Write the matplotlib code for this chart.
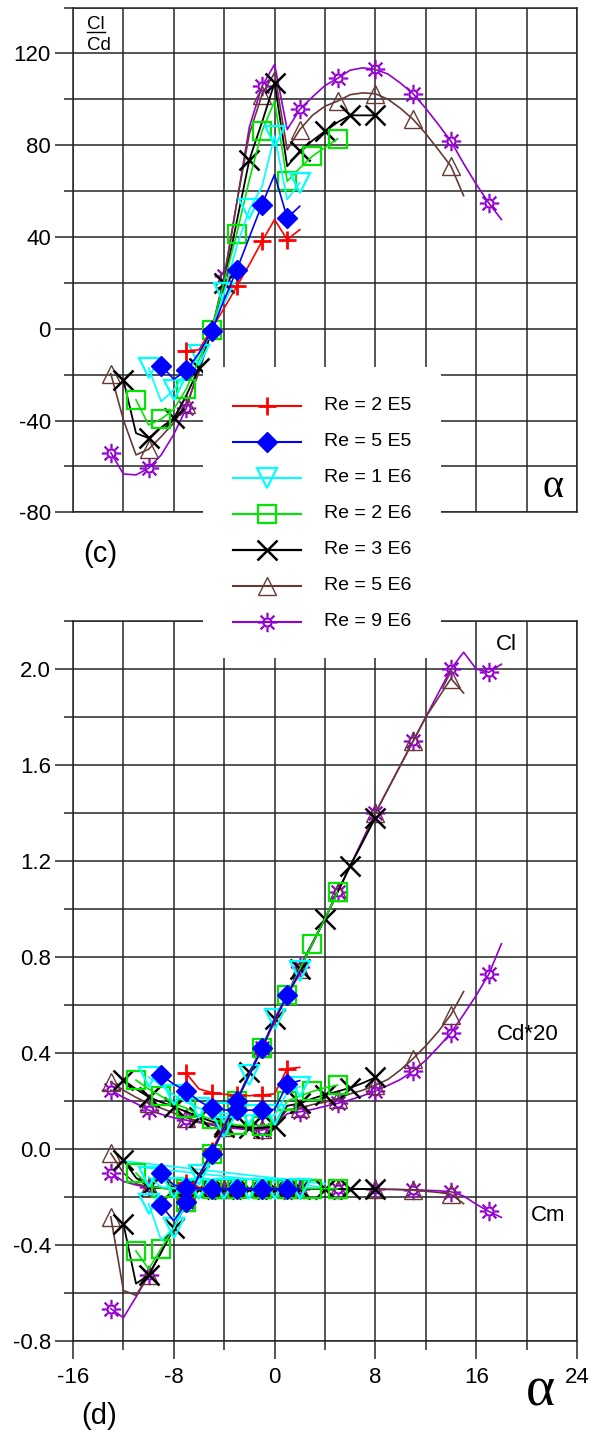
import numpy as np
import matplotlib
matplotlib.use('Agg')
import matplotlib.pyplot as plt
from matplotlib.path import Path
from matplotlib.ticker import MultipleLocator, FixedLocator

plt.rcParams['font.family'] = ['Liberation Sans', 'DejaVu Sans']
plt.rcParams['axes.unicode_minus'] = False

# ---------------- data ----------------
labels = ['Re = 2 E5', 'Re = 5 E5', 'Re = 1 E6', 'Re = 2 E6', 'Re = 3 E6', 'Re = 5 E6', 'Re = 9 E6']

# Re = 2 E5
a_2e5 = [-7, -6, -5, -4, -3, -2, -1, 0, 1, 2]
clcd_2e5 = [-9.6, -9.2, 0.0, 9.0, 18.5, 28.0, 38.1, 47.6, 38.8, 43.2]
cl_2e5 = [-0.21, -0.11, -0.01, 0.10, 0.20, 0.31, 0.42, 0.53, 0.64, 0.73]
cd20_2e5 = [0.315, 0.25, 0.235, 0.228, 0.225, 0.222, 0.225, 0.23, 0.335, 0.34]
cm_2e5 = [-0.14, -0.16, -0.165, -0.165, -0.165, -0.166, -0.166, -0.166, -0.166, -0.166]

# Re = 5 E5
a_5e5 = [-9, -8, -7, -6, -5, -4, -3, -2, -1, 0, 1, 2]
clcd_5e5 = [-16.1, -22.0, -18.2, -10.6, -1.2, 12.7, 25.7, 40.0, 54.1, 67.2, 48.3, 53.4]
cl_5e5 = [-0.235, -0.30, -0.22, -0.11, -0.02, 0.09, 0.20, 0.31, 0.42, 0.54, 0.64, 0.74]
cd20_5e5 = [0.308, 0.27, 0.242, 0.20, 0.17, 0.163, 0.162, 0.162, 0.162, 0.165, 0.27, 0.285]
cm_5e5 = [-0.10, -0.15, -0.163, -0.165, -0.165, -0.166, -0.166, -0.166, -0.166, -0.166, -0.166, -0.166]

# Re = 1 E6
a_1e6 = [-10, -9, -8, -7, -6, -5, -4, -3, -2, -1, 0, 1, 2]
clcd_1e6 = [-17.2, -31.7, -26.6, -19.0, -11.3, -1.0, 15.6, 36.0, 52.0, 62.0, 84.0, 56.3, 63.6]
cl_1e6 = [-0.228, -0.38, -0.33, -0.22, -0.11, -0.02, 0.09, 0.20, 0.31, 0.42, 0.54, 0.64, 0.74]
cd20_1e6 = [0.30, 0.265, 0.225, 0.195, 0.17, 0.155, 0.148, 0.143, 0.141, 0.14, 0.14, 0.235, 0.26]
cm_1e6 = [-0.117, -0.158, -0.163, -0.165, -0.165, -0.165, -0.165, -0.165, -0.165, -0.165, -0.165, -0.165, -0.165]
# two stray straight Cm segments of the Re = 1 E6 set
a_1e6_cm_seg1 = [-12.0, 4.0]
cm_1e6_seg1 = [-0.05, -0.145]
a_1e6_cm_seg2 = [-10.7, 4.0]
cm_1e6_seg2 = [-0.075, -0.16]

# Re = 2 E6
a_2e6 = [-11, -10, -9, -8, -7, -6, -5, -4, -3, -2, -1, 0, 1, 2, 3, 4, 5]
clcd_2e6 = [-31.0, -41.9, -39.4, -35.0, -26.2, -13.5, -0.4, 20.6, 41.5, 65.0, 86.1, 99.2, 64.3, 70.0, 75.2, 79.0, 82.8]
cl_2e6 = [-0.425, -0.50, -0.415, -0.33, -0.22, -0.11, -0.02, 0.09, 0.20, 0.31, 0.42, 0.54, 0.64, 0.75, 0.855, 0.96, 1.07]
cd20_2e6 = [0.287, 0.25, 0.22, 0.19, 0.17, 0.14, 0.125, 0.11, 0.10, 0.097, 0.097, 0.105, 0.20, 0.22, 0.24, 0.255, 0.266]
cm_2e6 = [-0.10, -0.155, -0.163, -0.165, -0.165, -0.165, -0.165, -0.165, -0.165, -0.165, -0.165, -0.165, -0.165, -0.165, -0.165, -0.165, -0.166]

# Re = 3 E6
a_3e6 = [-12, -11, -10, -9, -8, -7, -6, -5, -4, -3, -2, -1, 0, 1, 2, 3, 4, 5, 6, 7, 8]
clcd_3e6 = [-22.3, -45.5, -47.7, -43.0, -39.0, -29.0, -17.2, -1.0, 20.0, 46.8, 73.7, 90.0, 107.2, 70.8, 77.4, 82.0, 86.1, 90.0, 93.0, 93.0, 93.0]
cl_3e6 = [-0.311, -0.561, -0.526, -0.43, -0.328, -0.22, -0.11, -0.02, 0.09, 0.20, 0.32, 0.42, 0.54, 0.64, 0.75, 0.855, 0.96, 1.07, 1.18, 1.28, 1.38]
cd20_3e6 = [0.287, 0.25, 0.217, 0.195, 0.176, 0.155, 0.134, 0.115, 0.10, 0.092, 0.086, 0.088, 0.095, 0.18, 0.19, 0.21, 0.226, 0.24, 0.255, 0.275, 0.298]
cm_3e6 = [-0.046, -0.12, -0.157, -0.163, -0.165, -0.165, -0.165, -0.165, -0.165, -0.165, -0.165, -0.165, -0.165, -0.165, -0.165, -0.166, -0.166, -0.166, -0.167, -0.167, -0.167]

# Re = 5 E6
a_5e6 = [-13, -12, -11, -10, -9, -8, -7, -6, -5, -4, -3, -2, -1, 0, 1, 2, 3, 4, 5, 6, 7, 8, 9, 10, 11, 12, 13, 14, 15]
clcd_5e6 = [-19.6, -39.7, -55.0, -52.5, -47.0, -41.0, -33.0, -19.0, -1.0, 22.0, 55.0, 85.0, 102.0, 111.6, 78.0, 86.8, 93.0, 97.0, 99.2, 102.0, 102.8, 102.4, 100.0, 96.0, 91.2, 85.0, 78.0, 70.8, 58.0]
cl_5e6 = [-0.283, -0.589, -0.61, -0.526, -0.43, -0.33, -0.22, -0.11, -0.02, 0.09, 0.20, 0.31, 0.42, 0.54, 0.64, 0.75, 0.855, 0.96, 1.07, 1.18, 1.28, 1.40, 1.50, 1.60, 1.70, 1.80, 1.88, 1.96, 1.90]
cd20_5e6 = [0.28, 0.245, 0.215, 0.19, 0.17, 0.15, 0.13, 0.115, 0.105, 0.10, 0.093, 0.09, 0.085, 0.097, 0.164, 0.17, 0.185, 0.195, 0.21, 0.23, 0.245, 0.266, 0.29, 0.33, 0.377, 0.43, 0.49, 0.56, 0.656]
cm_5e6 = [-0.018, -0.10, -0.145, -0.157, -0.163, -0.165, -0.165, -0.165, -0.165, -0.165, -0.165, -0.165, -0.165, -0.165, -0.165, -0.165, -0.165, -0.166, -0.166, -0.166, -0.167, -0.167, -0.168, -0.169, -0.172, -0.176, -0.181, -0.188, -0.228]

# Re = 9 E6
a_9e6 = [-13, -12, -11, -10, -9, -8, -7, -6, -5, -4, -3, -2, -1, 0, 1, 2, 3, 4, 5, 6, 7, 8, 9, 10, 11, 12, 13, 14, 15, 16, 17, 18]
clcd_9e6 = [-54.0, -63.3, -63.7, -60.8, -55.0, -46.0, -34.6, -17.0, -1.0, 22.8, 55.0, 88.0, 105.7, 115.2, 86.8, 95.6, 101.0, 106.0, 109.1, 112.7, 113.7, 113.0, 111.0, 107.0, 102.4, 96.0, 89.0, 81.7, 72.0, 63.0, 54.8, 47.6]
cl_9e6 = [-0.665, -0.703, -0.617, -0.526, -0.43, -0.33, -0.22, -0.11, -0.02, 0.09, 0.20, 0.31, 0.42, 0.54, 0.64, 0.76, 0.86, 0.96, 1.07, 1.18, 1.29, 1.40, 1.50, 1.60, 1.70, 1.80, 1.90, 2.00, 2.07, 2.00, 1.986, 2.02]
cd20_9e6 = [0.245, 0.215, 0.19, 0.162, 0.145, 0.13, 0.12, 0.11, 0.10, 0.092, 0.085, 0.08, 0.079, 0.094, 0.147, 0.155, 0.165, 0.178, 0.19, 0.205, 0.222, 0.242, 0.265, 0.29, 0.325, 0.37, 0.425, 0.484, 0.56, 0.64, 0.728, 0.855]
cm_9e6 = [-0.10, -0.135, -0.15, -0.16, -0.163, -0.165, -0.165, -0.165, -0.165, -0.165, -0.165, -0.165, -0.165, -0.165, -0.166, -0.166, -0.166, -0.166, -0.166, -0.167, -0.167, -0.167, -0.168, -0.169, -0.17, -0.172, -0.174, -0.178, -0.196, -0.23, -0.26, -0.285]

# ---------------- styles ----------------
def sun_marker():
    circ = Path.circle((0, 0), 0.42)
    verts = list(circ.vertices)
    codes = list(circ.codes)
    for k in range(8):
        t = k * np.pi / 4
        verts += [(0.55 * np.cos(t), 0.55 * np.sin(t)), (np.cos(t), np.sin(t))]
        codes += [Path.MOVETO, Path.LINETO]
    return Path(verts, codes)

SUN = sun_marker()

styles = [
    dict(color='#ff0000', marker='+', ms=12.5, mew=2.0, mfc='none', lw=1.2, every=2),
    dict(color='#0000ff', marker='D', ms=10.0, mew=1.0, mfc='#0000ff', lw=1.2, every=2),
    dict(color='#00ffff', marker='v', ms=14.0, mew=1.6, mfc='none', lw=1.2, every=2),
    dict(color='#00e600', marker='s', ms=13.0, mew=1.6, mfc='none', lw=1.2, every=2),
    dict(color='#000000', marker='x', ms=15.0, mew=1.8, mfc='none', lw=1.3, every=2),
    dict(color='#663a33', marker='^', ms=13.0, mew=1.0, mfc='none', lw=1.2, every=3),
    dict(color='#9400d3', marker=SUN, ms=14.0, mew=1.6, mfc='none', lw=1.2, every=3),
]

series = [
    (a_2e5, clcd_2e5, cl_2e5, cd20_2e5, cm_2e5),
    (a_5e5, clcd_5e5, cl_5e5, cd20_5e5, cm_5e5),
    (a_1e6, clcd_1e6, cl_1e6, cd20_1e6, cm_1e6),
    (a_2e6, clcd_2e6, cl_2e6, cd20_2e6, cm_2e6),
    (a_3e6, clcd_3e6, cl_3e6, cd20_3e6, cm_3e6),
    (a_5e6, clcd_5e6, cl_5e6, cd20_5e6, cm_5e6),
    (a_9e6, clcd_9e6, cl_9e6, cd20_9e6, cm_9e6),
]
draw_order = [6, 5, 4, 3, 2, 0, 1]

W, H = 597, 1436
fig = plt.figure(figsize=(W / 100, H / 100), dpi=100)

def fx(px):
    return px / W

def fy(py):
    return 1 - py / H

GRID = '#262626'

def style_axes(ax):
    ax.set_facecolor('white')
    for s in ax.spines.values():
        s.set_color(GRID)
        s.set_linewidth(1.1)
    ax.grid(True, which='both', color=GRID, lw=1.1)
    ax.set_axisbelow(True)
    ax.tick_params(which='major', direction='out', length=13, width=1.1, color=GRID,
                   labelsize=16, pad=3)
    ax.tick_params(which='minor', direction='out', length=6.5, width=1.1, color=GRID)

# ---------- top panel: Cl/Cd ----------
ax1 = fig.add_axes([fx(73), fy(512.3), fx(577 - 73), (512.3 - 7.5) / H])
ax1.set_xlim(-16, 24)
ax1.set_ylim(-80, 140)
ax1.xaxis.set_major_locator(MultipleLocator(4))
ax1.yaxis.set_minor_locator(FixedLocator([-60, -20, 20, 60, 100, 140]))
ax1.yaxis.set_major_locator(FixedLocator([-80, -40, 0, 40, 80, 120]))
style_axes(ax1)
ax1.tick_params(axis='x', which='both', length=0, labelbottom=False)
ax1.set_yticklabels(['-80', '-40', '0', '40', '80', '120'])

for i in draw_order:
    a, clcd, cl, cd20, cm = series[i]
    st = styles[i]
    ax1.plot(a, clcd, color=st['color'], lw=st['lw'], marker=st['marker'], ms=st['ms'],
             mew=st['mew'], mfc=st['mfc'], mec=st['color'], markevery=st['every'])

# ---------- bottom panel: Cl, Cd*20, Cm ----------
ax2 = fig.add_axes([fx(73), fy(1341), fx(577 - 73), (1341 - 621) / H])
ax2.set_xlim(-16, 24)
ax2.set_ylim(-0.8, 2.2)
ax2.xaxis.set_major_locator(FixedLocator([-16, -8, 0, 8, 16, 24]))
ax2.xaxis.set_minor_locator(FixedLocator([-12, -4, 4, 12, 20]))
ax2.yaxis.set_major_locator(FixedLocator([-0.8, -0.4, 0.0, 0.4, 0.8, 1.2, 1.6, 2.0]))
ax2.yaxis.set_minor_locator(FixedLocator([-0.6, -0.2, 0.2, 0.6, 1.0, 1.4, 1.8, 2.2]))
style_axes(ax2)
ax2.set_xticklabels(['-16', '-8', '0', '8', '16', '24'])
ax2.set_yticklabels(['-0.8', '-0.4', '0.0', '0.4', '0.8', '1.2', '1.6', '2.0'])
ax2.tick_params(axis='x', which='major', pad=6)

cy = styles[2]['color']
ax2.plot(a_1e6_cm_seg1, cm_1e6_seg1, color=cy, lw=1.2)
ax2.plot(a_1e6_cm_seg2, cm_1e6_seg2, color=cy, lw=1.2)

for i in draw_order:
    a, clcd, cl, cd20, cm = series[i]
    st = styles[i]
    for vals in (cm, cd20, cl):
        ax2.plot(a, vals, color=st['color'], lw=st['lw'], marker=st['marker'], ms=st['ms'],
                 mew=st['mew'], mfc=st['mfc'], mec=st['color'], markevery=st['every'])

# ---------- texts ----------
fig.text(fx(87), fy(29), 'Cl', fontsize=13.5, va='baseline', ha='left')
fig.text(fx(87), fy(50.5), 'Cd', fontsize=13.5, va='baseline', ha='left')
fig.add_artist(plt.Line2D([fx(87), fx(105)], [fy(32), fy(32)], color='black', lw=1.0))
fig.text(fx(552.5), fy(497), '\u03b1', fontsize=29, family='Liberation Serif',
         va='baseline', ha='center')
fig.text(fx(83), fy(562), '(c)', fontsize=21, va='baseline', ha='left')
fig.text(fx(81), fy(1424), '(d)', fontsize=21, va='baseline', ha='left')
fig.text(fx(496), fy(650), 'Cl', fontsize=16, va='baseline', ha='left')
fig.text(fx(497), fy(1040), 'Cd*20', fontsize=16, va='baseline', ha='left')
fig.text(fx(531), fy(1221), 'Cm', fontsize=16, va='baseline', ha='left')
fig.text(fx(540), fy(1406), '\u03b1', fontsize=40, family='Liberation Serif',
         va='baseline', ha='center')

# ---------- legend box ----------
axl = fig.add_axes([fx(203), fy(658), fx(441 - 203), (658 - 367) / H])
axl.set_facecolor('white')
axl.set_xlim(203, 441)
axl.set_ylim(658, 367)
axl.set_axis_off()
axl.add_patch(plt.Rectangle((203, 367), 238, 291, facecolor='white', edgecolor='none', zorder=0))
rows = [406, 442, 478, 514, 550, 586, 622]
for i, (lab, yy) in enumerate(zip(labels, rows)):
    st = styles[i]
    axl.plot([233, 267, 301], [yy, yy, yy], color=st['color'], lw=st['lw'] + 0.3,
             marker=st['marker'], ms=st['ms'], mew=st['mew'], mfc=st['mfc'],
             mec=st['color'], markevery=[1])
    axl.text(324, yy, lab, fontsize=14, va='center', ha='left')

fig.savefig('out.png', dpi=100, facecolor='white')
